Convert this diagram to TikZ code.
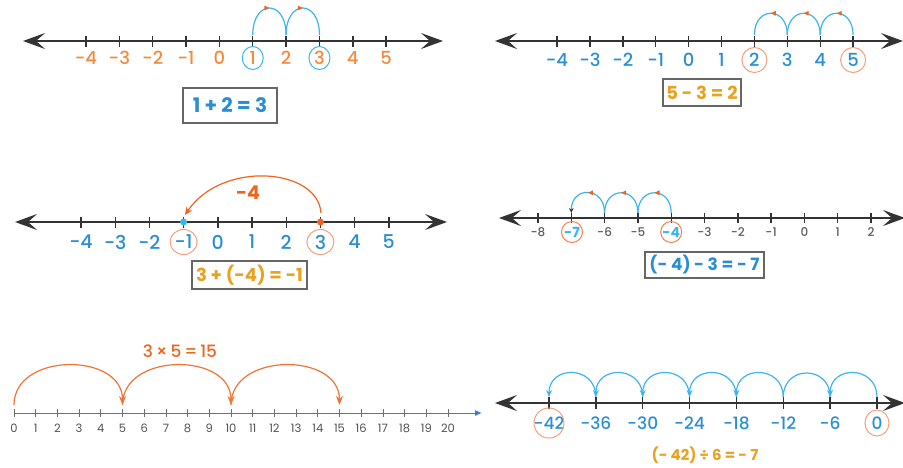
\documentclass[tikz,border=0pt]{standalone}
\usepackage{fontspec}
\setmainfont{Poppins}
\newfontfamily\pmed{Poppins Medium}
\usetikzlibrary{arrows.meta,decorations.markings,shapes.geometric}
\definecolor{lorange}{HTML}{F58A3C}
\definecolor{dorange}{HTML}{F0641E}
\definecolor{pblue}{HTML}{2A8ED6}
\definecolor{cyanA}{HTML}{3CB4EC}
\definecolor{goldA}{HTML}{E9A11F}
\definecolor{ringO}{HTML}{F5A07A}
\definecolor{axisc}{HTML}{333333}
\definecolor{boxc}{HTML}{666666}
\definecolor{lineblue}{HTML}{3A7BD5}
\newcommand\myfs[1]{\fontsize{#1}{#1}\selectfont}
\begin{document}
\begin{tikzpicture}[x=1pt,y=-1pt,
  bigtip/.tip={Stealth[length=22pt,width=16pt,inset=9pt]},
  axis/.style={draw=axisc,line width=1.8pt,{bigtip}-{bigtip}},
  tickmark/.style={draw=axisc,line width=1.4pt},
  hop/.style={draw=cyanA,line width=1.2pt},
  midarrow/.style={postaction={decorate},decoration={markings,
     mark=at position 0.5 with {\arrow[dorange]{Triangle[length=5pt,width=4.5pt]}}}},
  ring/.style={ellipse,draw=ringO,line width=1pt,inner sep=0pt},
  lbl/.style={inner sep=0pt},
  eqbox/.style={draw=boxc,line width=1.2pt,inner sep=0pt,font=\bfseries}
]
\useasboundingbox (0,0) rectangle (903,467);

% ---------------- Panel 1 ----------------
\coordinate (aL) at (23,41); \coordinate (aR) at (443,41);
\draw[axis] (aL) -- (aR);
\foreach \n [count=\i from 0] in {-4,-3,-2,-1,0,1,2,3,4,5}{
  \coordinate (a\i) at ({86+33.35*\i},41);
  \coordinate (at\i) at ({86+33.35*\i},35);
  \draw[tickmark] (a\i) +(0,-5.5) -- +(0,5.5);
  \node[lbl,text=lorange,font=\pmed\myfs{18}] (la\i) at ({86+33.35*\i},58) {\n};
}
\node[ring,draw=cyanA,minimum width=21pt,minimum height=23pt] (ra5) at (la5) {};
\node[ring,draw=cyanA,minimum width=21pt,minimum height=23pt] (ra7) at (la7) {};
\draw[hop,midarrow] (at5) .. controls +(0,-36) and +(0,-36) .. (at6);
\draw[hop,midarrow] (at6) .. controls +(0,-36) and +(0,-36) .. (at7);
\node[eqbox,text=pblue,minimum width=94pt,minimum height=35pt,font=\bfseries\myfs{20}] (eq1) at (230,105.5) {1 + 2 = 3};

% ---------------- Panel 2 ----------------
\coordinate (bL) at (495,41); \coordinate (bR) at (903,41);
\draw[axis] (bL) -- (bR);
\foreach \n [count=\i from 0] in {-4,-3,-2,-1,0,1,2,3,4,5}{
  \coordinate (b\i) at ({557+32.9*\i},41);
  \coordinate (bt\i) at ({557+32.9*\i},35);
  \draw[tickmark] (b\i) +(0,-5.5) -- +(0,5.5);
  \node[lbl,text=pblue,font=\pmed\myfs{18}] (lb\i) at ({557+32.9*\i},60) {\n};
}
\node[ring,minimum size=25pt] (rb6) at (lb6) {};
\node[ring,minimum size=25pt] (rb9) at (lb9) {};
\draw[hop,midarrow] (bt9) .. controls +(0,-29) and +(0,-29) .. (bt8);
\draw[hop,midarrow] (bt8) .. controls +(0,-29) and +(0,-29) .. (bt7);
\draw[hop,midarrow] (bt7) .. controls +(0,-29) and +(0,-29) .. (bt6);
\node[eqbox,text=goldA,minimum width=78pt,minimum height=27pt,font=\bfseries\myfs{18}] (eq2) at (702,92.5) {5 - 3 = 2};

% ---------------- Panel 3 ----------------
\coordinate (cL) at (15,222); \coordinate (cR) at (447,222);
\draw[axis] (cL) -- (cR);
\foreach \n [count=\i from 0] in {-4,-3,-2,-1,0,1,2,3,4,5}{
  \coordinate (c\i) at ({81+34.2*\i},222);
  \draw[tickmark] (c\i) +(0,-5.5) -- +(0,5.5);
  \node[lbl,text=pblue,font=\pmed\myfs{19}] (lc\i) at ({81+34.2*\i},242) {\n};
}
\node[ring,minimum width=27pt,minimum height=25pt] (rc3) at (lc3) {};
\node[ring,minimum width=27pt,minimum height=25pt] (rc7) at (lc7) {};
\fill[cyanA] (c3) circle[radius=3.5pt];
\fill[dorange] (c7) circle[radius=3.5pt];
\coordinate (cS) at (321,213); \coordinate (cE) at (185,215);
\draw[dorange,line width=1.2pt,-{Stealth[length=8pt,width=7pt]}] (cS) .. controls (318,168) and (222,160) .. (cE);
\node[lbl,text=dorange,font=\bfseries\myfs{19}] (m4) at (248,193) {-4};
\node[eqbox,text=goldA,minimum width=115pt,minimum height=28pt,font=\bfseries\myfs{18}] (eq3) at (249.5,275) {3 + (-4) = -1};

% ---------------- Panel 4 ----------------
\coordinate (dL) at (499,218); \coordinate (dR) at (905,218);
\draw[axis] (dL) -- (dR);
\foreach \n [count=\i from 0] in {-8,-7,-6,-5,-4,-3,-2,-1,0,1,2}{
  \coordinate (d\i) at ({538+33.3*\i},218);
  \coordinate (dt\i) at ({538+33.3*\i},213);
  \draw[tickmark] (d\i) +(0,-5) -- +(0,5);
}
\foreach \n [count=\i from 0] in {-8,-7,-6,-5,-4,-3,-2,-1,0,1,2}{
  \ifnum\i=1 \else\ifnum\i=4 \else
  \node[lbl,text=axisc!80,font=\pmed\myfs{12}] (ld\i) at ({538+33.3*\i},232) {\n};
  \fi\fi
}
\node[lbl,text=cyanA,font=\bfseries\myfs{14}] (ld1) at (572,232) {-7};
\node[lbl,text=cyanA,font=\bfseries\myfs{14}] (ld4) at (671.2,232) {-4};
\node[ring,draw=dorange!80,minimum size=21pt] (rd1) at (ld1) {};
\node[ring,draw=dorange!80,minimum size=21pt] (rd4) at (ld4) {};
\draw[hop,midarrow] (dt4) .. controls +(0,-27) and +(0,-27) .. (dt3);
\draw[hop,midarrow] (dt3) .. controls +(0,-27) and +(0,-27) .. (dt2);
\draw[hop,midarrow,-{Stealth[length=5pt,width=4.5pt,color=axisc]}] (dt2) .. controls +(0,-27) and +(0,-27) .. (dt1);
\node[eqbox,text=pblue,minimum width=119pt,minimum height=26pt,font=\bfseries\myfs{17}] (eq4) at (704.5,265) {(- 4) - 3 = - 7};

% ---------------- Panel 5 ----------------
\coordinate (eL) at (14,413); \coordinate (eR) at (482,413);
\draw[lineblue,line width=1pt,-{Latex[length=7pt,width=6pt]}] (eL) -- (eR);
\foreach \i in {0,...,20}{
  \coordinate (e\i) at ({14+21.7*\i},413);
  \coordinate (et\i) at ({14+21.7*\i},405);
  \draw[axisc!70,line width=0.8pt] (e\i) +(0,-4) -- +(0,4);
  \node[lbl,text=axisc!85,font=\myfs{11.5}] (le\i) at ({14+21.7*\i},428) {\i};
}
\foreach \a/\b in {0/5,5/10,10/15}{
  \draw[dorange!90,line width=1.2pt,-{Stealth[length=9pt,width=7pt]}] (et\a) .. controls +(0,-53) and +(0,-53) .. (et\b);
}
\node[lbl,text=dorange,font=\pmed\myfs{17}] (eq5) at (180,351) {3\,×\,5\,=\,15};

% ---------------- Panel 6 ----------------
\coordinate (fL) at (495,403); \coordinate (fR) at (905,403);
\draw[axis] (fL) -- (fR);
\foreach \n [count=\i from 0] in {-42,-36,-30,-24,-18,-12,-6,0}{
  \coordinate (f\i) at ({549+46.85*\i},403);
  \coordinate (ft\i) at ({549+46.85*\i},397);
  \draw[tickmark] (f\i) +(0,-6) -- +(0,6);
  \node[lbl,text=pblue,font=\pmed\myfs{17}] (lf\i) at ({549+46.85*\i},423) {\n};
}
\node[ring,minimum width=30pt,minimum height=30pt] (rf0) at (lf0) {};
\node[ring,minimum width=24pt,minimum height=26pt] (rf7) at (lf7) {};
\foreach \a/\b in {7/6,5/4,4/3,3/2,2/1,1/0}{
  \draw[hop,-{Stealth[length=7pt,width=6pt]}] (ft\a) .. controls +(0,-32) and +(0,-32) .. (ft\b);
}
\draw[hop] (ft6) .. controls +(0,-32) and +(0,-32) .. (ft5);
\node[lbl,text=goldA,font=\bfseries\myfs{15}] (eq6) at (705,455.5) {(- 42) ÷ 6 = - 7};
\end{tikzpicture}
\end{document}
